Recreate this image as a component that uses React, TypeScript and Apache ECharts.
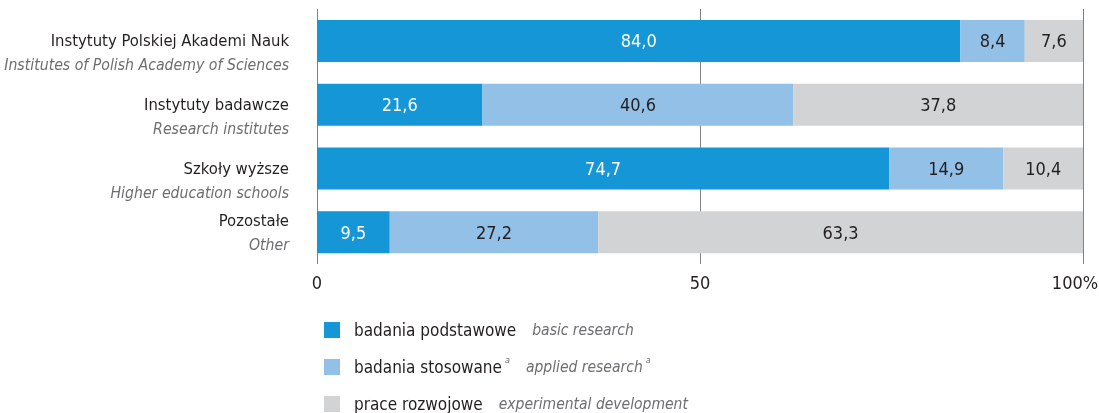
import React, { useEffect, useRef } from "react";
import * as echarts from "echarts";

const categoriesPl = ["Instytuty Polskiej Akademi Nauk", "Instytuty badawcze", "Szkoły wyższe", "Pozostałe"];
const categoriesEn = ["Institutes of Polish Academy of Sciences", "Research institutes", "Higher education schools", "Other"];
const basicResearch = [84.0, 21.6, 74.7, 9.5];
const appliedResearch = [8.4, 40.6, 14.9, 27.2];
const experimentalDevelopment = [7.6, 37.8, 10.4, 63.3];
const seriesNamesPl = ["badania podstawowe", "badania stosowane", "prace rozwojowe"];
const seriesNamesEn = ["basic research", "applied research", "experimental development"];
const seriesSup = [false, true, false];
const colors = ["#1596d6", "#93c0e6", "#d1d3d4"];
const labelColors = ["#ffffff", "#231f20", "#231f20"];
const xTicks = [0, 50, 100];

const FONT = "'Liberation Sans Narrow', 'DejaVu Sans Condensed', 'Roboto Condensed', sans-serif";

export default function App() {
  const ref = useRef<HTMLDivElement>(null);
  useEffect(() => {
    if (!ref.current) return;
    const chart = echarts.init(ref.current, undefined, { renderer: "svg" });
    const seriesData = [basicResearch, appliedResearch, experimentalDevelopment];
    const fmt = (v: number) => v.toFixed(1).replace(".", ",");
    const legendRich = {
      a: { fontSize: 17, color: "#231f20", fontFamily: FONT, padding: [0, 0, 0, 9], lineHeight: 24, height: 24 },
      b: { fontSize: 15.5, color: "#6d6e71", fontStyle: "italic", fontFamily: FONT, padding: [0, 0, 0, 16], lineHeight: 24, height: 24 },
      sup: { fontSize: 9, color: "#6d6e71", fontStyle: "italic", fontFamily: FONT, padding: [0, 0, 0, 3], lineHeight: 12, verticalAlign: "top" },
    };
    chart.setOption({
      animation: false,
      textStyle: { fontFamily: FONT },
      grid: { left: 317, right: 16, top: 9, bottom: 149, containLabel: false, outerBoundsMode: "none" },
      xAxis: {
        type: "value",
        min: 0,
        max: 100,
        interval: 50,
        axisLine: { show: false },
        axisTick: { show: false },
        splitLine: { show: true, lineStyle: { color: "#808285", width: 1 } },
        axisLabel: {
          margin: 9,
          fontSize: 18,
          color: "#231f20",
          fontFamily: FONT,
          formatter: (v: number) => (v === xTicks[2] ? `{p|${v}%}` : String(v)),
          rich: {
            p: { fontSize: 18, color: "#231f20", fontFamily: FONT, padding: [0, 16, 0, 0] },
          },
        },
      },
      yAxis: {
        type: "category",
        inverse: true,
        data: categoriesPl,
        axisLine: { show: false },
        axisTick: { show: false },
        splitLine: { show: false },
        axisLabel: {
          margin: 28,
          align: "right",
          formatter: (_v: string, i: number) =>
            i < 3
              ? `{s| }\n{a|${categoriesPl[i]}}\n{b|${categoriesEn[i]}}`
              : `{a|${categoriesPl[i]}}\n{b|${categoriesEn[i]}}`,
          rich: {
            s: { fontSize: 10, lineHeight: 24, fontFamily: FONT },
            a: { fontSize: 16.5, lineHeight: 24, color: "#231f20", fontFamily: FONT, align: "right" },
            b: { fontSize: 15.7, lineHeight: 24, color: "#6d6e71", fontStyle: "italic", fontFamily: FONT, align: "right" },
          },
        },
      },
      legend: seriesNamesPl.map((name, i) => ({
        orient: "vertical",
        left: 324,
        top: 318 + i * 37,
        padding: 0,
        itemWidth: 16,
        itemHeight: 16,
        icon: "rect",
        data: [name],
        formatter: (n: string) =>
          seriesSup[i]
            ? `{a|${n}}{sup|a}{b|${seriesNamesEn[i]}}{sup|a}`
            : `{a|${n}}{b|${seriesNamesEn[i]}}`,
        textStyle: { fontFamily: FONT, rich: legendRich },
      })),
      series: seriesData.map((d, i) => ({
        name: seriesNamesPl[i],
        type: "bar",
        stack: "total",
        barWidth: 42,
        data: d,
        itemStyle: { color: colors[i] },
        label: {
          show: true,
          position: "inside",
          fontSize: 18,
          color: labelColors[i],
          fontFamily: FONT,
          formatter: (p: any) => fmt(p.value),
        },
      })),
    });
    return () => chart.dispose();
  }, []);
  return <div ref={ref} style={{ position: "fixed", left: 0, top: 0, width: 1099, height: 413 }} />;
}
